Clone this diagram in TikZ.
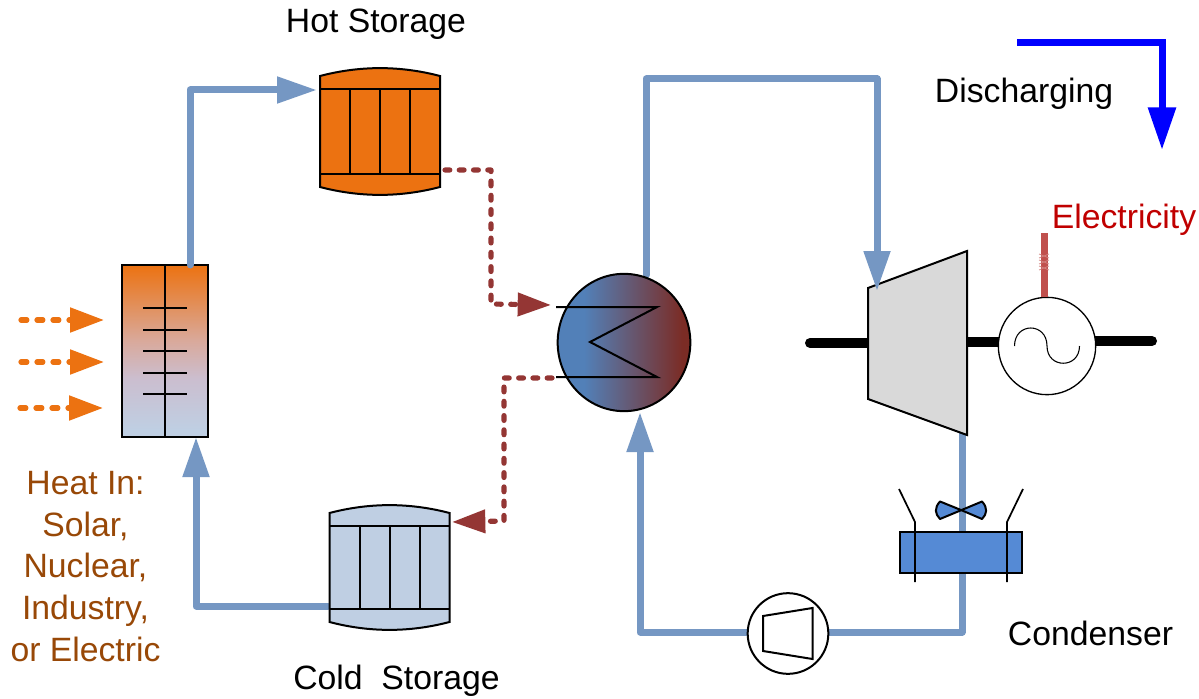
\documentclass[tikz,border=0pt]{standalone}
\usepackage{fontspec}
\setmainfont{Liberation Sans}
\usetikzlibrary{arrows.meta,shapes.geometric}
\definecolor{pipeblue}{HTML}{7597C3}
\definecolor{hotorange}{HTML}{EC7211}
\definecolor{coldblue}{HTML}{BFCFE3}
\definecolor{brownred}{HTML}{943634}
\definecolor{hxblue}{HTML}{5280B8}
\definecolor{hxred}{HTML}{7B2C25}
\definecolor{condblue}{HTML}{558AD5}
\definecolor{heatbrown}{HTML}{984807}
\definecolor{elecred}{HTML}{C00000}
\definecolor{elecline}{HTML}{C0504D}
\definecolor{heatmidA}{HTML}{CBBECF}
\definecolor{heatmidB}{HTML}{D9A99B}
\pgfdeclareverticalshading{heatshade}{100bp}{
  color(0bp)=(coldblue); color(27bp)=(coldblue);
  color(42bp)=(heatmidA);
  color(53bp)=(heatmidB);
  color(75bp)=(hotorange); color(100bp)=(hotorange)}
\pgfdeclarehorizontalshading{hxshade}{100bp}{
  color(0bp)=(hxblue); color(35bp)=(hxblue); color(72bp)=(hxred); color(100bp)=(hxred)}
\tikzset{
  pipe/.style={draw=pipeblue,line width=5.25pt,line join=round,line cap=round},
  pipetip/.style={pipe,-{Triangle[length=30pt,width=19pt]}},
  dotbrown/.style={draw=brownred,line width=3.9pt,line cap=round,line join=round,dash pattern=on 3.6pt off 7.1pt,-{Triangle[length=25pt,width=17pt]}},
  dotorange/.style={draw=hotorange,line width=3.9pt,line cap=round,dash pattern=on 4.4pt off 7.6pt,-{Triangle[length=25.5pt,width=18pt]}},
  outline/.style={draw=black,line width=1.5pt,line join=miter},
  shaft/.style={draw=black,line width=7.5pt,line cap=round},
  label/.style={font=\fontsize{25.3}{31.3}\selectfont,inner sep=0pt,align=center},
}
\begin{document}
\begin{tikzpicture}[x=0.75pt,y=-0.75pt]
\useasboundingbox (0,0) rectangle (1199,699);
% named ports
\coordinate (hotIn) at (317,90);
\coordinate (hotOut) at (445,170);
\coordinate (coldIn) at (452,522);
\coordinate (coldOut) at (328,606);
\coordinate (heatTop) at (190,265);
\coordinate (heatBot) at (196,437);
\coordinate (hxTop) at (646,275);
\coordinate (hxBot) at (640,412);
\coordinate (hxIn) at (551,305);
\coordinate (hxOut) at (552,378);
\coordinate (turbIn) at (877,291);
\coordinate (turbOut) at (962,433);
\coordinate (elecEnd) at (1044,233);
\coordinate (ah1) at (21,320); \coordinate (at1) at (104,320);
\coordinate (ah2) at (21,362); \coordinate (at2) at (104,362);
\coordinate (ah3) at (20,408); \coordinate (at3) at (103,408);
\coordinate (disA) at (1017,43); \coordinate (disB) at (1162,150);

% pipes under the equipment
\draw[pipe] (coldOut) -- (196,606) -- (196,470);
\draw[pipetip] (196,480) -- (heatBot);
\draw[pipe] (turbOut) -- (962,632) -- (640,632) -- (640,450);
\draw[pipetip] (640,460) -- (hxBot);

% heater
\node[outline,inner sep=0pt,minimum width=64.5pt,minimum height=129pt,shading=heatshade] (heater) at (165,351) {};
\draw[line width=1.5pt] (165,265) -- (165,437);
\foreach \yy in {308,330,351,373,394} \draw[line width=1.5pt] (143,\yy) -- (187,\yy);
\draw[pipe] (heatTop) -- (190,90) -- (280,90);
\draw[pipetip] (270,90) -- (hotIn);

% hot storage
\draw[outline,fill=hotorange] (320,76) .. controls (360,65.5) and (400,65.5) .. (440,76) -- (440,187) .. controls (400,197.5) and (360,197.5) .. (320,187) -- cycle;
\draw[line width=1.5pt] (320,89) -- (440,89) (320,174) -- (440,174) (350,89) -- (350,174) (380,89) -- (380,174) (410,89) -- (410,174);
\node[inner sep=0pt,minimum width=90pt,minimum height=95pt] (hot) at (380,131) {};

% cold storage
\draw[outline,fill=coldblue] (329.5,513) .. controls (369.5,502.5) and (409.5,502.5) .. (449.5,513) -- (449.5,622) .. controls (409.5,632.5) and (369.5,632.5) .. (329.5,622) -- cycle;
\draw[line width=1.5pt] (329.5,526) -- (449.5,526) (329.5,609) -- (449.5,609) (359.5,526) -- (359.5,609) (389.5,526) -- (389.5,609) (419.5,526) -- (419.5,609);
\node[inner sep=0pt,minimum width=90pt,minimum height=93pt] (cold) at (389.5,567.5) {};

% heat exchanger
\draw[pipe] (hxTop) -- (646,79) -- (877,79) -- (877,255);
\node[outline,ellipse,inner sep=0pt,minimum width=99.5pt,minimum height=103pt,shading=hxshade] (hx) at (624,342.5) {};
\draw[line width=1.5pt,line join=miter] (556,307) -- (657,307) -- (590,342) -- (657,377) -- (556,377);

% brown dotted connectors
\draw[dotbrown] (hotOut) -- (491,170) -- (491,304) -- (hxIn);
\draw[dotbrown] (hxOut) -- (504,378) -- (504,521) -- (coldIn);

% orange heat arrows
\draw[dotorange] (ah1) -- (at1);
\draw[dotorange] (ah2) -- (at2);
\draw[dotorange] (ah3) -- (at3);

% shaft, generator, turbine
\draw[shaft] (810,343) -- (868,343);
\draw[shaft,line cap=butt] (967,342) -- (1000,342);
\draw[shaft] (1095,341) -- (1152,341);
\node[draw=black,line width=1pt,circle,fill=white,inner sep=0pt,minimum size=73pt] (gen) at (1047,346) {};
\draw[line width=0.8pt] (1014.5,346) .. controls (1014.5,322) and (1047,322) .. (1047,346) .. controls (1047,369) and (1079.5,369) .. (1079.5,346);
\draw[outline,fill=black!15] (868,288) -- (967,251) -- (967,435) -- (868,399) -- cycle;
\node[inner sep=0pt,minimum width=74pt,minimum height=138pt] (turbine) at (917.5,343) {};
\draw[pipetip] (877,245) -- (turbIn);

% electricity
\draw[elecline,line width=5.25pt] (gen.north -| elecEnd) -- (elecEnd);
\draw[elecline!70,line width=0.5pt] (1039,254) -- (1049,258) (1049,254) -- (1039,258) (1039,260) -- (1049,264) (1049,260) -- (1039,264) (1039,266) -- (1049,270) (1049,266) -- (1039,270);

% condenser
\draw[line width=1.5pt,line join=round,fill=condblue] (961,510) -- (940,501.5) .. controls (934,508) and (935,514) .. (940,519) -- (982,501.5) .. controls (988,508) and (987,514) .. (982,519) -- cycle;
\node[outline,fill=condblue,inner sep=0pt,minimum width=91.5pt,minimum height=31pt] (condenser) at (961,552.5) {};
\draw[line width=1.3pt,line join=round] (899,489) -- (915,522) -- (915,582) (1023,489) -- (1007,522) -- (1007,582);

% compressor
\node[outline,circle,fill=white,inner sep=0pt,minimum size=60.5pt] (compressor) at (788,633.5) {};
\draw[line width=1.5pt] (763,616) -- (812.5,608) -- (812.5,659) -- (763,651) -- cycle;

% discharging arrow
\draw[draw=blue,line width=5.25pt,line join=miter,-{Triangle[length=32pt,width=20pt]}] (disA) -- (disB |- disA) -- (disB);

% labels
\node[label] (lhot) at (376,24.5) {Hot Storage};
\node[label] (lcold) at (396.5,680.5) {Cold\ \ Storage};
\node[label] (ldis) at (1024,93.5) {Discharging};
\node[label,text=elecred] (lelec) at (1124,219.5) {Electricity};
\node[label] (lcond) at (1090.5,633.5) {Condenser};
\node[label,text=heatbrown] (lheat) at (85.5,566.5) {Heat In:\\Solar,\\Nuclear,\\Industry,\\or Electric};
\end{tikzpicture}
\end{document}
